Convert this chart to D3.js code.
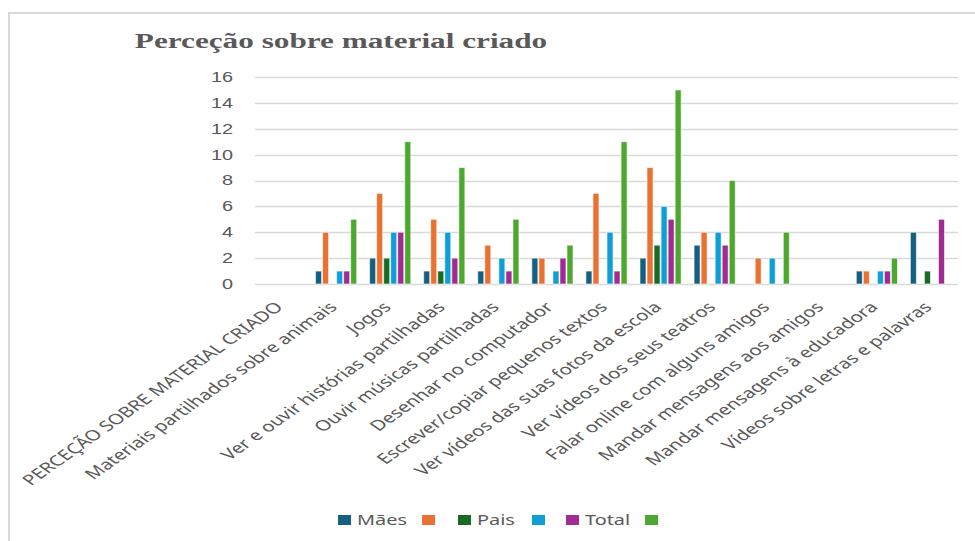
<!DOCTYPE html>
<html>
<head>
<meta charset="utf-8">
<script src="https://cdn.jsdelivr.net/npm/d3@7"></script>
<style>
  html, body { margin: 0; padding: 0; background: #fff; }
  svg { display: block; }
</style>
</head>
<body>
<svg id="chart" width="975" height="541"></svg>
<script>
// Categories along the x axis
const categories = [
  "PERCEÇÃO SOBRE MATERIAL CRIADO",
  "Materiais partilhados sobre animais",
  "Jogos",
  "Ver e ouvir histórias partilhadas",
  "Ouvir músicas partilhadas",
  "Desenhar no computador",
  "Escrever/copiar pequenos textos",
  "Ver vídeos das suas fotos da escola",
  "Ver vídeos dos seus teatros",
  "Falar online com alguns amigos",
  "Mandar mensagens aos amigos",
  "Mandar mensagens à educadora",
  "Vídeos sobre letras e palavras"
];

// Series names (three series have no name in the legend)
const seriesNames = ["Mães", "", "Pais", "", "Total", ""];

// Series values, one per category (null = no value)
const maes   = [null, 1, 2, 1, 1, 2, 1, 2, 3, null, null, 1, 4];
const serie2 = [null, 4, 7, 5, 3, 2, 7, 9, 4, 2, null, 1, null];
const pais   = [null, null, 2, 1, null, null, null, 3, null, null, null, null, 1];
const serie4 = [null, 1, 4, 4, 2, 1, 4, 6, 4, 2, null, 1, null];
const total  = [null, 1, 4, 2, 1, 2, 1, 5, 3, null, null, 1, 5];
const serie6 = [null, 5, 11, 9, 5, 3, 11, 15, 8, 4, null, 2, null];

const yTicks = [0, 2, 4, 6, 8, 10, 12, 14, 16];

const seriesValues = [maes, serie2, pais, serie4, total, serie6];
const colors = ["#156082", "#E97132", "#196B24", "#0F9ED5", "#A02B93", "#4EA72E"];

const svg = d3.select("#chart");
const W = 975, H = 541;
const plot = { left: 255, right: 958, top: 77, bottom: 284 };
// Text is drawn horizontally widened
const SX = 1.42;
const GREY = "#595959";
const SANS = "'Noto Sans', 'Open Sans', sans-serif";

// Outer frame (top and left edges)
svg.append("path")
  .attr("d", `M9,${H} L9,13 L${W},13`)
  .attr("fill", "none")
  .attr("stroke", "#d9d9d9")
  .attr("stroke-width", 2);

// Title
svg.append("text")
  .attr("transform", `translate(341,48) scale(${SX},1)`)
  .attr("text-anchor", "middle")
  .attr("font-family", "'Liberation Serif', 'Times New Roman', serif")
  .attr("font-weight", "bold")
  .attr("font-size", 22)
  .attr("fill", GREY)
  .text("Perceção sobre material criado");

const x0 = d3.scaleBand()
  .domain(categories)
  .range([plot.left, plot.right])
  .paddingInner(0.22)
  .paddingOuter(0.11);

const x1 = d3.scaleBand()
  .domain(d3.range(seriesValues.length))
  .range([0, x0.bandwidth()])
  .padding(0);

const y = d3.scaleLinear()
  .domain([0, 16])
  .range([plot.bottom, plot.top]);

// Horizontal gridlines
svg.append("g")
  .selectAll("line")
  .data(yTicks)
  .join("line")
  .attr("x1", plot.left)
  .attr("x2", plot.right)
  .attr("y1", d => Math.round(y(d)) + 0.5)
  .attr("y2", d => Math.round(y(d)) + 0.5)
  .attr("stroke", "#d9d9d9")
  .attr("stroke-width", 1.5);

// Y axis labels
const yAxis = d3.axisLeft(y).tickValues(yTicks).tickSize(0).tickPadding(0);
const yg = svg.append("g")
  .attr("transform", `translate(233,0)`)
  .call(yAxis);
yg.select(".domain").remove();
yg.selectAll("text")
  .attr("font-family", "'Liberation Sans', Arial, sans-serif")
  .attr("font-size", 14)
  .attr("fill", GREY)
  .attr("transform", `scale(${SX},1)`);

// Bars
const groups = svg.append("g")
  .selectAll("g")
  .data(categories.map((c, i) => ({ c, i })))
  .join("g")
  .attr("transform", d => `translate(${x0(d.c)},0)`);

groups.selectAll("rect")
  .data(d => seriesValues.map((s, k) => ({ k, v: s[d.i] })).filter(e => e.v != null && e.v > 0))
  .join("rect")
  .attr("x", e => x1(e.k) + 0.5)
  .attr("width", x1.bandwidth() - 1)
  .attr("y", e => y(e.v))
  .attr("height", e => y(0) - y(e.v))
  .attr("fill", e => colors[e.k])
  .attr("stroke", "#ffffff")
  .attr("stroke-opacity", 0.6)
  .attr("stroke-width", 1);

// Category labels, rotated
const xAxis = d3.axisBottom(x0).tickSize(0).tickPadding(0);
const xg = svg.append("g")
  .attr("transform", `translate(0,${plot.bottom})`)
  .call(xAxis);
xg.select(".domain").remove();
xg.selectAll("text")
  .attr("font-family", SANS)
  .attr("font-size", 14.5)
  .attr("fill", GREY)
  .attr("text-anchor", "end")
  .attr("y", 0)
  .attr("dy", 0)
  .attr("transform", `translate(2,24) scale(${SX},1) rotate(-45)`);

// Legend
const legendX = [338, 422, 458, 532, 566, 645];
const legend = svg.append("g")
  .selectAll("g")
  .data(seriesNames.map((n, k) => ({ n, k })))
  .join("g")
  .attr("transform", d => `translate(${legendX[d.k]},515)`);
legend.append("rect")
  .attr("width", 13)
  .attr("height", 10)
  .attr("fill", d => colors[d.k]);
legend.append("text")
  .attr("transform", `translate(19,10) scale(${SX},1)`)
  .attr("font-family", SANS)
  .attr("font-size", 14)
  .attr("fill", GREY)
  .text(d => d.n);
</script>
</body>
</html>
